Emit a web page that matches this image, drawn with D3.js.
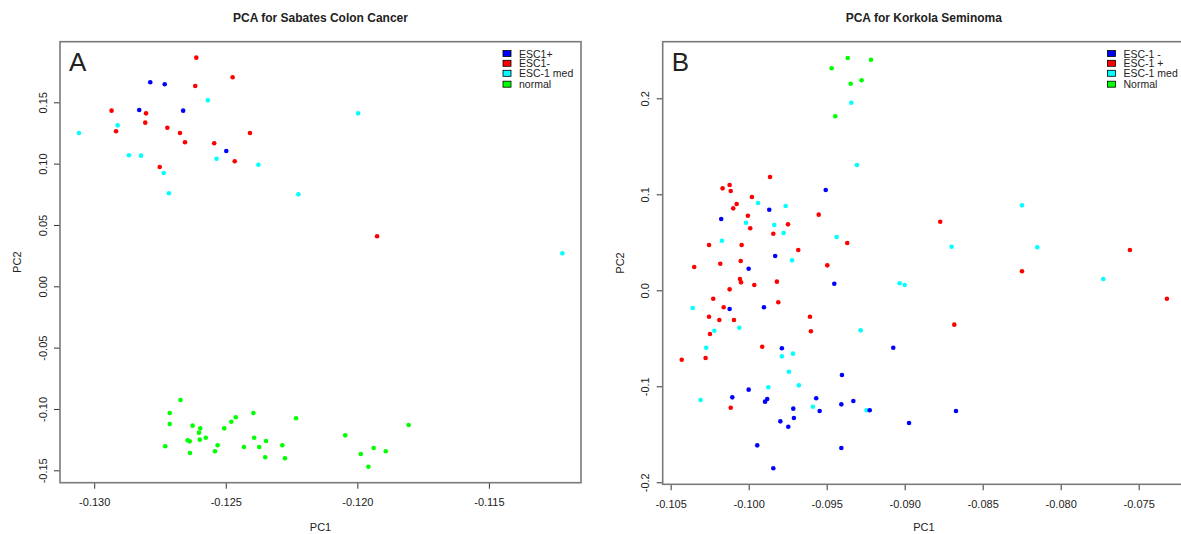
<!DOCTYPE html>
<html>
<head>
<meta charset="utf-8">
<script src="https://cdnjs.cloudflare.com/ajax/libs/d3/7.8.5/d3.min.js"></script>
<style>
body { margin:0; background:#fff; }
svg text { font-family: "Liberation Sans", Arial, sans-serif; fill:#222; }
.title { font-weight:bold; font-size:12px; }
.tick text { font-size:11px; }
</style>
</head>
<body>
<svg id="chart" width="1181" height="534"></svg>
<script>
// ---- panel A : Sabates colon cancer
var colonGroups = ["ESC1+", "ESC1-", "ESC-1 med", "normal"];
var colonXTicks = [-0.130, -0.125, -0.120, -0.115];
var colonXLabels = ["-0.130", "-0.125", "-0.120", "-0.115"];
var colonYTicks = [0.15, 0.10, 0.05, 0.00, -0.05, -0.10, -0.15];
var colonYLabels = ["0.15", "0.10", "0.05", "0.00", "-0.05", "-0.10", "-0.15"];

var colonEscPlus = [[-0.12829,0.1437],[-0.12787,0.1663],[-0.12732,0.1647],[-0.12662,0.1432],[-0.12498,0.1103]];
var colonEscMinus = [[-0.12934,0.1432],[-0.12917,0.1264],[-0.12806,0.1334],[-0.12803,0.1410],[-0.12751,0.0973],
	[-0.12722,0.1293],[-0.12674,0.1250],[-0.12655,0.1174],[-0.12616,0.1633],[-0.12612,0.1864],[-0.12544,0.1166],
	[-0.12474,0.1704],[-0.12466,0.1019],[-0.12408,0.1250],[-0.11925,0.0408]];
var colonEscMed = [[-0.13058,0.1250],[-0.12911,0.1312],[-0.12868,0.1068],[-0.12822,0.1065],[-0.12736,0.0924],
	[-0.12716,0.0758],[-0.12568,0.1516],[-0.12535,0.1040],[-0.12376,0.0991],[-0.12224,0.0750],[-0.11997,0.1410],
	[-0.11221,0.0269]];
var colonNormal = [[-0.12730,-0.1304],[-0.12713,-0.1033],[-0.12713,-0.1123],[-0.12672,-0.0927],[-0.12645,-0.1255],
	[-0.12637,-0.1264],[-0.12636,-0.1359],[-0.12626,-0.1136],[-0.12602,-0.1193],[-0.12599,-0.1250],[-0.12597,-0.1158],
	[-0.12576,-0.1234],[-0.12541,-0.1345],[-0.12531,-0.1296],[-0.12506,-0.1158],[-0.12479,-0.1104],[-0.12462,-0.1068],
	[-0.12431,-0.1310],[-0.12395,-0.1033],[-0.12392,-0.1234],[-0.12373,-0.1310],[-0.12350,-0.1394],[-0.12347,-0.1261],
	[-0.12285,-0.1296],[-0.12275,-0.1402],[-0.12233,-0.1076],[-0.12046,-0.1215],[-0.11987,-0.1367],[-0.11938,-0.1318],
	[-0.11958,-0.1471],[-0.11892,-0.1345],[-0.11805,-0.1131]];

// ---- panel B : Korkola seminoma
var semGroups = ["ESC-1 -", "ESC-1 +", "ESC-1 med", "Normal"];
var semXTicks = [-0.105, -0.100, -0.095, -0.090, -0.085, -0.080, -0.075];
var semXLabels = ["-0.105", "-0.100", "-0.095", "-0.090", "-0.085", "-0.080", "-0.075"];
var semYTicks = [0.2, 0.1, 0.0, -0.1, -0.2];
var semYLabels = ["0.2", "0.1", "0.0", "-0.1", "-0.2"];

var semEscMinus = [[-0.09506,0.1045],[-0.09868,0.0840],[-0.10176,0.0743],[-0.09830,0.0357],[-0.10000,0.0225],
	[-0.09451,0.0069],[-0.10122,-0.0195],[-0.09902,-0.0177],[-0.09787,-0.0604],[-0.09402,-0.0882],[-0.10000,-0.1035],
	[-0.10105,-0.1115],[-0.09881,-0.1132],[-0.09895,-0.1160],[-0.09567,-0.1125],[-0.09714,-0.1233],[-0.09545,-0.1257],
	[-0.09406,-0.1188],[-0.09329,-0.1153],[-0.09224,-0.1250],[-0.09797,-0.1365],[-0.09710,-0.1330],[-0.09746,-0.1421],
	[-0.09945,-0.1615],[-0.09406,-0.1643],[-0.09842,-0.1854],[-0.09073,-0.0598],[-0.08671,-0.1257],[-0.08972,-0.1382]];
var semEscPlus = [[-0.09863,0.1180],[-0.10167,0.1062],[-0.10122,0.1097],[-0.10115,0.1034],[-0.09979,0.0972],
	[-0.10077,0.0899],[-0.10099,0.0854],[-0.09551,0.0788],[-0.10005,0.0777],[-0.09990,0.0646],[-0.09748,0.0687],
	[-0.09842,0.0590],[-0.10254,0.0472],[-0.10045,0.0472],[-0.09368,0.0493],[-0.09682,0.0420],[-0.10051,0.0305],
	[-0.10182,0.0277],[-0.10349,0.0243],[-0.09496,0.0260],[-0.10056,0.0118],[-0.10049,0.0083],[-0.09819,0.0090],
	[-0.09964,0.0055],[-0.10122,0.0010],[-0.10227,-0.0088],[-0.09810,-0.0125],[-0.10160,-0.0177],[-0.10254,-0.0275],
	[-0.10188,-0.0309],[-0.10094,-0.0309],[-0.09607,-0.0275],[-0.09601,-0.0427],[-0.10248,-0.0455],[-0.09913,-0.0588],
	[-0.10429,-0.0723],[-0.10276,-0.0705],[-0.10115,-0.1223],[-0.08772,0.0715],[-0.07556,0.0420],[-0.08248,0.0198],
	[-0.07319,-0.0088],[-0.08682,-0.0358]];
var semEscMed = [[-0.09342,0.1954],[-0.09306,0.1305],[-0.09940,0.0909],[-0.09763,0.0878],[-0.10017,0.0704],
	[-0.09836,0.0680],[-0.09776,0.0597],[-0.09436,0.0555],[-0.10171,0.0517],[-0.09722,0.0312],[-0.10359,-0.0184],
	[-0.10060,-0.0390],[-0.09282,-0.0417],[-0.10220,-0.0421],[-0.10272,-0.0598],[-0.09787,-0.0688],[-0.09716,-0.0660],
	[-0.09742,-0.0848],[-0.09678,-0.0990],[-0.09874,-0.1010],[-0.10308,-0.1143],[-0.09588,-0.1213],[-0.09244,-0.1250],
	[-0.08248,0.0885],[-0.08699,0.0454],[-0.08150,0.0448],[-0.07727,0.0118],[-0.09032,0.0073],[-0.09000,0.0055]];
var semNormal = [[-0.09468,0.2313],[-0.09365,0.2420],[-0.09216,0.2402],[-0.09276,0.2188],[-0.09346,0.2152],[-0.09445,0.1813]];

var svg = d3.select("#chart");

drawPanel({
	left:60, right:581, top:41.7, bottom:482.7,
	xdom:[-0.1313,-0.1115], ydom:[-0.1601,0.1994],
	title:"PCA for Sabates Colon Cancer", letter:"A",
	xticks:colonXTicks, xlabels:colonXLabels, yticks:colonYTicks, ylabels:colonYLabels,
	groups:colonGroups, colors:["#0000ff","#ff0000","#00ffff","#00ff00"],
	series:[colonNormal, colonEscMed, colonEscMinus, colonEscPlus],
	seriesColors:["#00ff00","#00ffff","#ff0000","#0000ff"],
	legendX:503
});

drawPanel({
	left:662.7, right:1185, top:41.7, bottom:484.3,
	xdom:[-0.10551,-0.07203], ydom:[-0.2021,0.2590],
	title:"PCA for Korkola Seminoma", letter:"B",
	xticks:semXTicks, xlabels:semXLabels, yticks:semYTicks, ylabels:semYLabels,
	groups:semGroups, colors:["#0000ff","#ff0000","#00ffff","#00ff00"],
	series:[semNormal, semEscPlus, semEscMed, semEscMinus],
	seriesColors:["#00ff00","#ff0000","#00ffff","#0000ff"],
	legendX:1107.5
});

function drawPanel(p) {
	var x = d3.scaleLinear().domain(p.xdom).range([p.left, p.right]);
	var y = d3.scaleLinear().domain(p.ydom).range([p.bottom, p.top]);
	var g = svg.append("g");

	// x axis
	var xa = g.append("g")
		.attr("transform", "translate(0," + p.bottom + ")")
		.call(d3.axisBottom(x).tickValues(p.xticks).tickSize(6).tickSizeOuter(0)
			.tickFormat(function(d, i) { return p.xlabels[i]; }));
	xa.select(".domain").remove();
	xa.selectAll(".tick line").attr("stroke", "#333");
	xa.selectAll(".tick text").attr("y", 23.5).attr("dy", null).attr("fill", "#222");

	// y axis, labels turned like R
	var ya = g.append("g")
		.attr("transform", "translate(" + p.left + ",0)")
		.call(d3.axisLeft(y).tickValues(p.yticks).tickSize(6).tickSizeOuter(0)
			.tickFormat(function(d, i) { return p.ylabels[i]; }));
	ya.select(".domain").remove();
	ya.selectAll(".tick line").attr("stroke", "#333");
	ya.selectAll(".tick text")
		.attr("x", null).attr("dy", null)
		.attr("transform", "translate(-13.5,0) rotate(-90)")
		.attr("text-anchor", "middle").attr("fill", "#222");

	// points
	p.series.forEach(function(s, k) {
		g.append("g").selectAll("circle")
			.data(s)
			.enter()
			.append("circle")
			.attr("cx", function(d) { return x(d[0]); })
			.attr("cy", function(d) { return y(d[1]); })
			.attr("r", 2.3)
			.attr("fill", p.seriesColors[k]);
	});

	// box
	g.append("rect")
		.attr("x", p.left).attr("y", p.top)
		.attr("width", p.right - p.left).attr("height", p.bottom - p.top)
		.attr("fill", "none").attr("stroke", "#7a7a7a").attr("stroke-width", 1.6);

	var cx = (p.left + p.right) / 2;
	g.append("text").attr("class", "title")
		.attr("x", cx).attr("y", 21.5).attr("text-anchor", "middle").text(p.title);
	g.append("text")
		.attr("x", cx).attr("y", 531).attr("text-anchor", "middle")
		.style("font-size", "11px").text("PC1");
	g.append("text")
		.attr("transform", "translate(" + (p.left - 39) + "," + ((p.top + p.bottom) / 2) + ") rotate(-90)")
		.attr("text-anchor", "middle").style("font-size", "11px").text("PC2");
	g.append("text")
		.attr("x", p.left + 9).attr("y", 70.5)
		.style("font-size", "26px").attr("fill", "#000").text(p.letter);

	// legend
	var lg = g.append("g");
	var rows = [53.5, 63.3, 73.3, 84.2];
	p.groups.forEach(function(name, i) {
		lg.append("rect")
			.attr("x", p.legendX).attr("y", rows[i] - 3)
			.attr("width", 8).attr("height", 6)
			.attr("fill", p.colors[i]).attr("stroke", "#000").attr("stroke-width", 0.8);
		lg.append("text")
			.attr("x", p.legendX + 16).attr("y", rows[i] + 4)
			.style("font-size", "10.5px").text(name);
	});
}
</script>
</body>
</html>
